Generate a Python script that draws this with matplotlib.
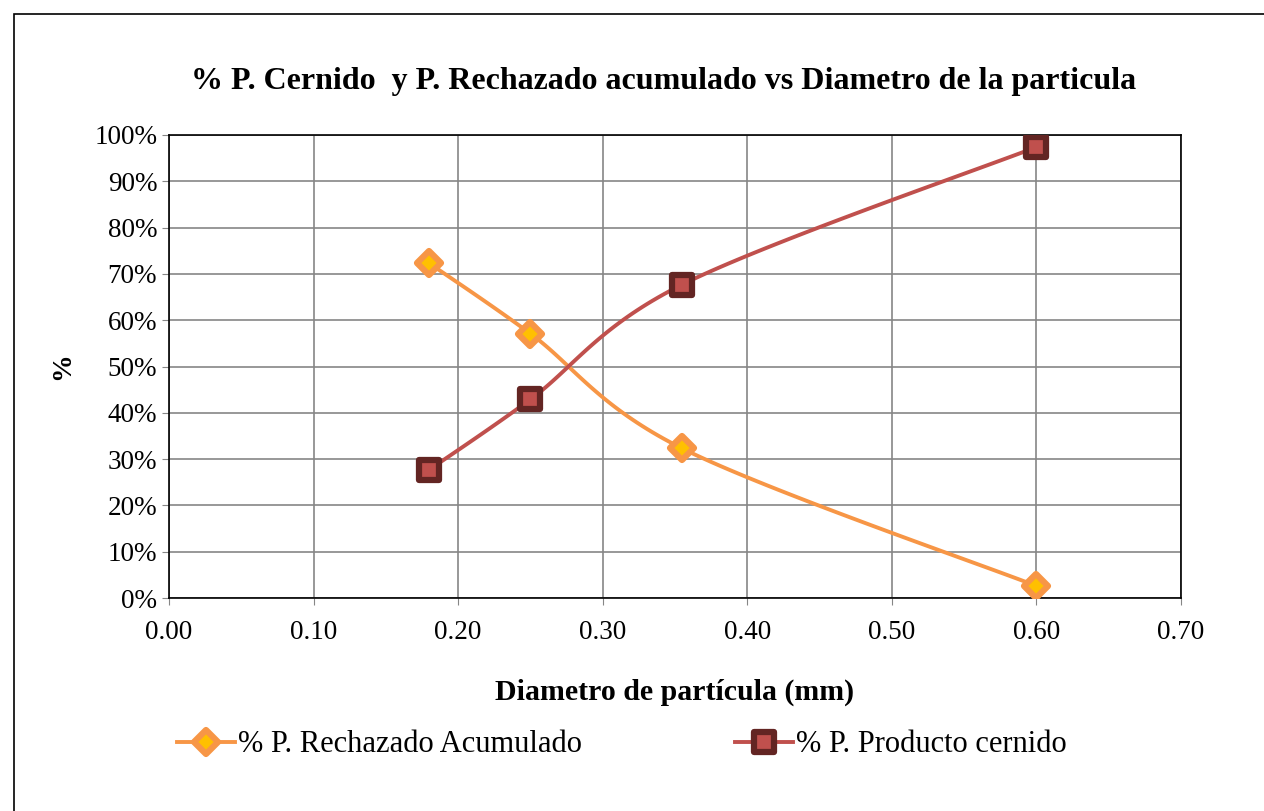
import matplotlib.pyplot as plt
import numpy as np
from matplotlib.patches import Rectangle
from matplotlib.markers import MarkerStyle

diametro = [0.18, 0.25, 0.355, 0.60]
rechazado = [72.3, 57.1, 32.3, 2.6]
cernido = [27.7, 42.9, 67.7, 97.4]

plt.rcParams['font.family'] = ['Liberation Serif', 'DejaVu Serif']


def suavizar(x, y, n=40):
    # curva suavizada tipo Excel (Catmull-Rom como Bezier)
    x = np.asarray(x, float)
    y = np.asarray(y, float)
    pts = np.column_stack([x, y])
    xs, ys = [], []
    for i in range(len(pts) - 1):
        p0 = pts[i - 1] if i > 0 else pts[i]
        p1 = pts[i]
        p2 = pts[i + 1]
        p3 = pts[i + 2] if i + 2 < len(pts) else pts[i + 1]
        c1 = p1 + (p2 - p0) / 6.0
        c2 = p2 - (p3 - p1) / 6.0
        t = np.linspace(0, 1, n)[:, None]
        b = (1 - t) ** 3 * p1 + 3 * (1 - t) ** 2 * t * c1 + 3 * (1 - t) * t ** 2 * c2 + t ** 3 * p2
        xs.extend(b[:, 0])
        ys.extend(b[:, 1])
    return np.array(xs), np.array(ys)


fig = plt.figure(figsize=(12.64, 8.11), dpi=100)
fig.patches.append(Rectangle((14 / 1264, -0.01), 1.0, 1 - 14 / 811 + 0.01, transform=fig.transFigure,
                             fill=False, edgecolor='black', linewidth=1.2))
ax = fig.add_axes([169 / 1264, 1 - 598 / 811, 1012 / 1264, 463 / 811])

naranja = '#F79646'
rojo = '#C0504D'
diamante = MarkerStyle('D', joinstyle='round')
cuadro = MarkerStyle('s', joinstyle='round')

xs, ys = suavizar(diametro, rechazado)
ax.plot(xs, ys, color=naranja, lw=2.8, zorder=3)
ax.plot(diametro, rechazado, ls='none', marker=diamante, ms=12.5, mfc='#FFC000', mec=naranja, mew=4.5, zorder=4)
xs, ys = suavizar(diametro, cernido)
ax.plot(xs, ys, color=rojo, lw=2.8, zorder=3)
ax.plot(diametro, cernido, ls='none', marker=cuadro, ms=14, mfc=rojo, mec='#632523', mew=4.5, zorder=4)

# elementos de leyenda
ax.plot([], [], color=naranja, lw=2.8, marker=diamante, ms=12.5, mfc='#FFC000', mec=naranja, mew=4.5,
        label='% P. Rechazado Acumulado')
ax.plot([], [], color=rojo, lw=2.8, marker=cuadro, ms=14, mfc=rojo, mec='#632523', mew=4.5,
        label='% P. Producto cernido')

ax.set_xlim(0, 0.70)
ax.set_ylim(0, 100)
ax.set_xticks(np.arange(0, 0.71, 0.1))
ax.set_xticklabels(['%.2f' % v for v in np.arange(0, 0.71, 0.1)])
ax.set_yticks(range(0, 101, 10))
ax.set_yticklabels(['%d%%' % v for v in range(0, 101, 10)])
ax.tick_params(labelsize=19.5, length=5, color='#868686')
ax.tick_params(axis='x', pad=11)
ax.grid(True, color='#868686', lw=1.2)
ax.set_axisbelow(True)
for s in ax.spines.values():
    s.set_color('black')
    s.set_linewidth(1.2)

ax.set_xlabel('Diametro de partícula (mm)', fontsize=21.5, fontweight='bold', labelpad=24)
ax.set_ylabel('%', fontsize=20, fontweight='bold', labelpad=14)
fig.text(664 / 1264, 1 - 81 / 811, '% P. Cernido  y P. Rechazado acumulado vs Diametro de la particula',
         ha='center', va='center', fontsize=23, fontweight='bold')

fig.legend(loc='center', bbox_to_anchor=(622 / 1264, 1 - 745 / 811), ncol=2, frameon=False,
           fontsize=22, columnspacing=5, handlelength=1.9, handletextpad=0.1)

fig.savefig('out.png', dpi=100)
